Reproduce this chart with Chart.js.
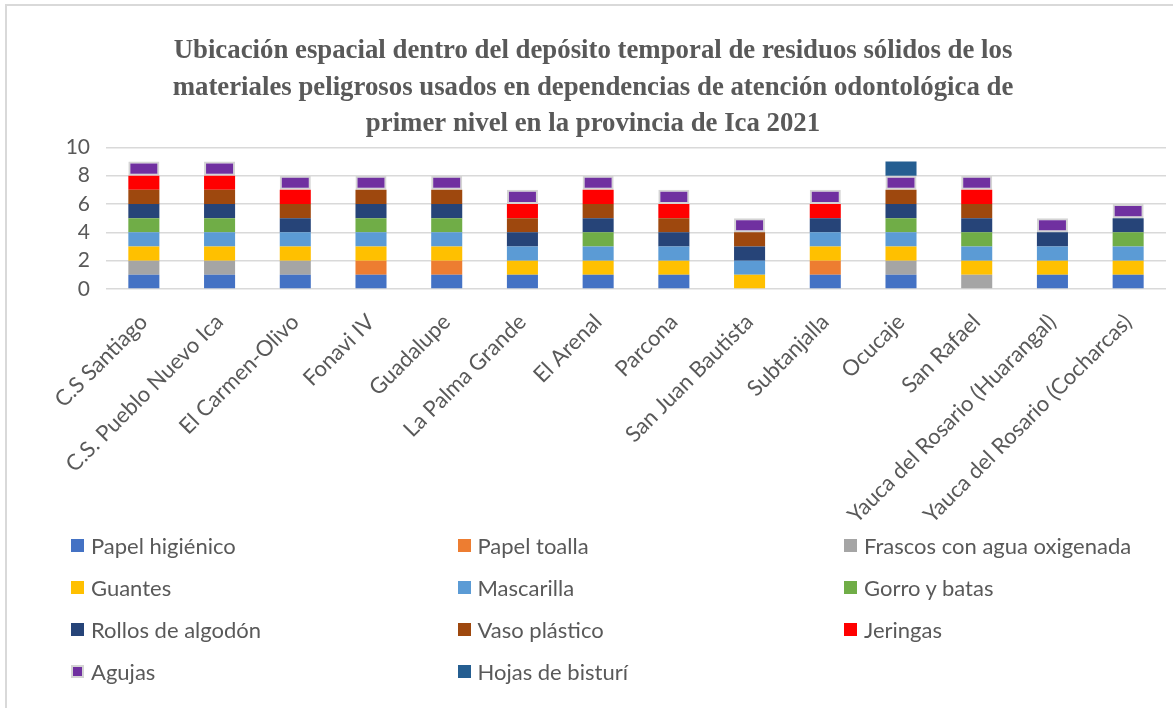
<!DOCTYPE html>
<html>
<head>
<meta charset="utf-8">
<script src="https://cdn.jsdelivr.net/npm/chart.js@4.4.1/dist/chart.umd.min.js"></script>
<style>
  body { margin: 0; background: #fff; width: 1173px; height: 708px; overflow: hidden; position: relative; font-family: Lato, sans-serif; }
  .frame { position: absolute; left: 5px; top: 4px; width: 1200px; height: 740px; border: 2px solid #d9d9d9; }
  #wrap { position: absolute; left: 0; top: 0; width: 1173px; height: 540px; }
  #legend { position: absolute; left: 71px; top: 524px; display: grid; grid-template-columns: 386.5px 386.5px 320px; grid-auto-rows: 42px; }
  .legend-item { display: flex; align-items: center; font-size: 22px; color: #595959; white-space: nowrap; }
  .legend-box { width: 13px; height: 13px; margin-right: 7px; box-sizing: border-box; }
</style>
</head>
<body>
<div class="frame"></div>
<div id="wrap"><canvas id="chart"></canvas></div>
<div id="legend"></div>
<script>
const TITLE_LINES = [
  'Ubicación espacial dentro del depósito temporal de residuos sólidos de los',
  'materiales peligrosos usados en dependencias de atención odontológica de',
  'primer nivel en la provincia de Ica 2021'
];

const CENTROS = [
  'C.S Santiago', 'C.S. Pueblo Nuevo Ica', 'El Carmen-Olivo', 'Fonavi IV', 'Guadalupe',
  'La Palma Grande', 'El Arenal', 'Parcona', 'San Juan Bautista', 'Subtanjalla',
  'Ocucaje', 'San Rafael', 'Yauca del Rosario (Huarangal)', 'Yauca del Rosario (Cocharcas)'
];

const PAPEL_HIGIENICO = [1, 1, 1, 1, 1, 1, 1, 1, 0, 1, 1, 0, 1, 1];
const PAPEL_TOALLA    = [0, 0, 0, 1, 1, 0, 0, 0, 0, 1, 0, 0, 0, 0];
const FRASCOS         = [1, 1, 1, 0, 0, 0, 0, 0, 0, 0, 1, 1, 0, 0];
const GUANTES         = [1, 1, 1, 1, 1, 1, 1, 1, 1, 1, 1, 1, 1, 1];
const MASCARILLA      = [1, 1, 1, 1, 1, 1, 1, 1, 1, 1, 1, 1, 1, 1];
const GORRO_BATAS     = [1, 1, 0, 1, 1, 0, 1, 0, 0, 0, 1, 1, 0, 1];
const ROLLOS          = [1, 1, 1, 1, 1, 1, 1, 1, 1, 1, 1, 1, 1, 1];
const VASO            = [1, 1, 1, 1, 1, 1, 1, 1, 1, 0, 1, 1, 0, 0];
const JERINGAS        = [1, 1, 1, 0, 0, 1, 1, 1, 0, 1, 0, 1, 0, 0];
const AGUJAS          = [1, 1, 1, 1, 1, 1, 1, 1, 1, 1, 1, 1, 1, 1];
const HOJAS_BISTURI   = [0, 0, 0, 0, 0, 0, 0, 0, 0, 0, 1, 0, 0, 0];

const SERIES = [
  { label: 'Papel higiénico',           data: PAPEL_HIGIENICO, color: '#4472C4' },
  { label: 'Papel toalla',              data: PAPEL_TOALLA,    color: '#ED7D31' },
  { label: 'Frascos con agua oxigenada', data: FRASCOS,        color: '#A5A5A5' },
  { label: 'Guantes',                   data: GUANTES,         color: '#FFC000' },
  { label: 'Mascarilla',                data: MASCARILLA,      color: '#5B9BD5' },
  { label: 'Gorro y batas',             data: GORRO_BATAS,     color: '#70AD47' },
  { label: 'Rollos de algodón',         data: ROLLOS,          color: '#264478' },
  { label: 'Vaso plástico',             data: VASO,            color: '#9E480E' },
  { label: 'Jeringas',                  data: JERINGAS,        color: '#FF0000' },
  { label: 'Agujas',                    data: AGUJAS,          color: '#7030A0', outline: '#d4d4d4' },
  { label: 'Hojas de bisturí',          data: HOJAS_BISTURI,   color: '#255E91' }
];

const TEXT_COLOR = '#595959';
const GRID_COLOR = '#d9d9d9';

new Chart(document.getElementById('chart').getContext('2d'), {
  type: 'bar',
  data: {
    labels: CENTROS,
    datasets: SERIES.map(s => ({
      label: s.label,
      data: s.data,
      backgroundColor: s.color,
      borderColor: s.outline || s.color,
      borderWidth: s.outline ? 2 : 0,
      borderSkipped: false,
      categoryPercentage: 1,
      barPercentage: 0.41
    }))
  },
  options: {
    animation: false,
    responsive: true,
    maintainAspectRatio: false,
    layout: { padding: { left: 20, right: 7, top: 0, bottom: 0 } },
    plugins: {
      legend: { display: false },
      tooltip: { enabled: false },
      title: {
        display: true,
        text: TITLE_LINES,
        color: TEXT_COLOR,
        font: { family: 'Liberation Serif', size: 26.8, weight: 'bold', lineHeight: 1.36 },
        padding: { top: 33, bottom: 5 }
      }
    },
    scales: {
      x: {
        stacked: true,
        grid: { display: false },
        border: { display: false },
        ticks: {
          color: TEXT_COLOR,
          font: { family: 'Lato', size: 22 },
          minRotation: 45,
          maxRotation: 45,
          autoSkip: false,
          padding: 12
        },
        afterFit: axis => { axis.height = 251; }
      },
      y: {
        stacked: true,
        min: 0,
        max: 10,
        grid: { color: GRID_COLOR, lineWidth: 1.5, drawTicks: false },
        border: { display: false },
        ticks: {
          stepSize: 2,
          autoSkip: false,
          color: TEXT_COLOR,
          font: { family: 'Lato', size: 21 },
          padding: 16
        },
        afterFit: axis => { axis.width = 86; }
      }
    }
  }
});

// legend in three columns, row by row like the original
document.getElementById('legend').innerHTML = SERIES.map(s => {
  const border = s.outline ? `border:2px solid ${s.outline};` : '';
  return `<div class="legend-item"><span class="legend-box" style="background:${s.color};${border}"></span>${s.label}</div>`;
}).join('');
</script>
</body>
</html>
